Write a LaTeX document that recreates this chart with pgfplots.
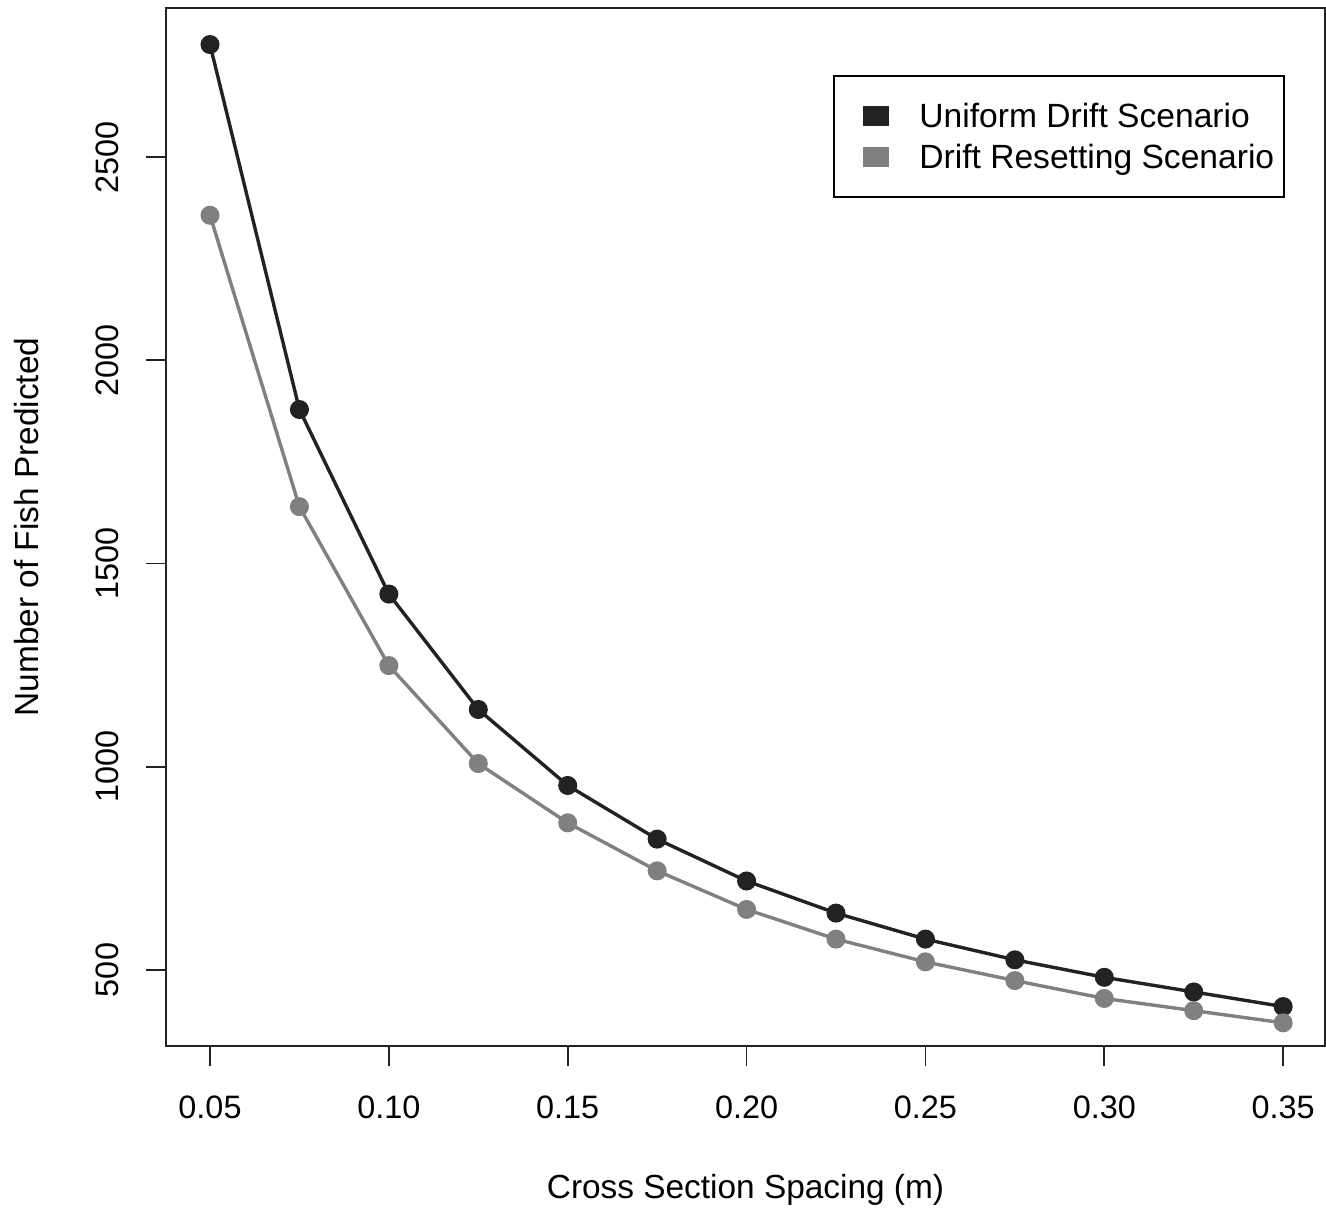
\documentclass[border=0pt]{standalone}
\usepackage{fontspec}
\setmainfont{Liberation Sans}
\usepackage{pgfplots}
\pgfplotsset{compat=1.18}
\definecolor{c1}{HTML}{222222}
\definecolor{c2}{HTML}{808080}
\begin{document}
\begin{tikzpicture}
\begin{axis}[
  name=ax,
  scale only axis,
  width=579.5pt, height=519pt,
  xmin=0.0377, xmax=0.3617, ymin=313, ymax=2867,
  axis line style={line width=0.9pt, c1},
  xtick={0.05,0.10,0.15,0.20,0.25,0.30,0.35},
  ytick={500,1000,1500,2000,2500},
  tick align=outside, major tick length=10pt,
  tick style={line width=0.9pt, c1},
  xtick pos=bottom, ytick pos=left,
  /pgf/number format/assume math mode=true,
  tick label style={font=\fontsize{16.2}{19}\selectfont},
  xticklabel style={/pgf/number format/.cd, fixed, fixed zerofill, precision=2, /tikz/.cd, anchor=north, inner sep=0pt, yshift=-14.5pt},
  yticklabel style={/pgf/number format/.cd, set thousands separator={}, fixed, /tikz/.cd, rotate=90, anchor=south, inner sep=0pt, yshift=13.5pt},
  xlabel={Cross Section Spacing (m)},
  ylabel={Number of Fish Predicted},
  label style={font=\fontsize{16.7}{20}\selectfont},
  xlabel style={at={(axis description cs:0.5,0)}, anchor=center, yshift=-72pt},
  ylabel style={at={(axis description cs:0,0.5)}, anchor=center, yshift=69.5pt},
  legend style={at={(0.9655,0.9355)}, anchor=north east, draw=black, line width=0.8pt,
    font=\fontsize{16.8}{20}\selectfont, inner xsep=5pt, inner ysep=14pt, row sep=8.5pt,
    column sep=15pt,
    nodes={inner sep=0pt, text height=12pt, text depth=0pt}},
  legend cell align=left,
]
\addplot[color=c1, line width=1.7pt, mark=*, mark size=3.9pt,
  legend image code/.code={\path[draw=none,fill=none] (0pt,0pt) -- (22pt,0pt); \fill[c1] (10.5pt,-4.25pt) rectangle (22pt,4.25pt);}]
coordinates {
(0.050,2777) (0.075,1879) (0.100,1425) (0.125,1141) (0.150,954)
(0.175,822) (0.200,719) (0.225,640) (0.250,576) (0.275,525)
(0.300,482) (0.325,446) (0.350,410)
};
\addlegendentry{Uniform Drift Scenario}
\addplot[color=c2, line width=1.7pt, mark=*, mark size=3.9pt,
  legend image code/.code={\path[draw=none,fill=none] (0pt,0pt) -- (22pt,0pt); \fill[c2] (10.5pt,-4.25pt) rectangle (22pt,4.25pt);}]
coordinates {
(0.050,2357) (0.075,1640) (0.100,1249) (0.125,1008) (0.150,862)
(0.175,744) (0.200,649) (0.225,576) (0.250,520) (0.275,474)
(0.300,430) (0.325,400) (0.350,370)
};
\addlegendentry{Drift Resetting Scenario}
\end{axis}
\pgfresetboundingbox
\path[use as bounding box] ([xshift=-83pt,yshift=-81pt]ax.south west) rectangle ([xshift=0.5pt,yshift=4pt]ax.north east);
\end{tikzpicture}
\end{document}
